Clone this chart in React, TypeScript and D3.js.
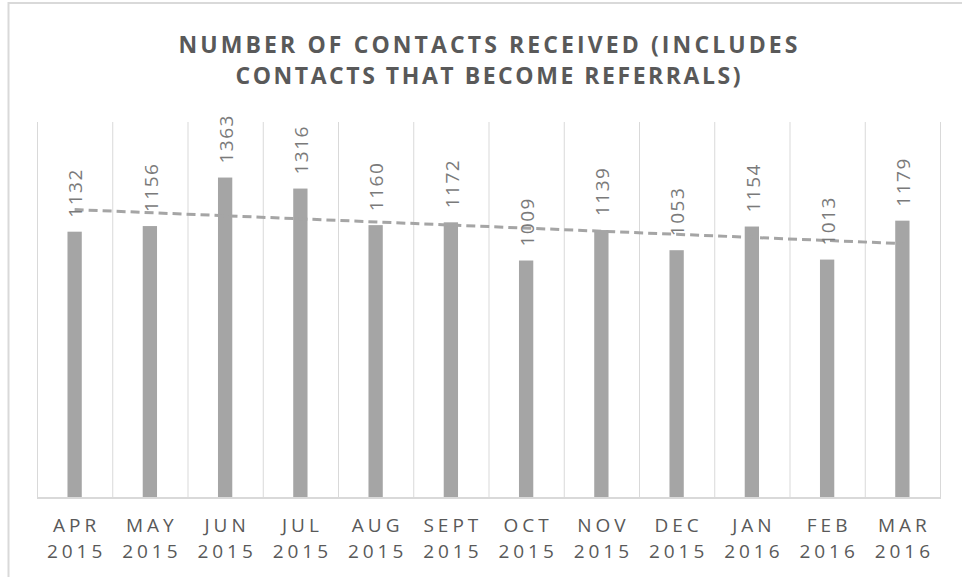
import * as React from 'react';
import * as d3 from 'd3';

const months = ['APR', 'MAY', 'JUN', 'JUL', 'AUG', 'SEPT', 'OCT', 'NOV', 'DEC', 'JAN', 'FEB', 'MAR'];
const years = ['2015', '2015', '2015', '2015', '2015', '2015', '2015', '2015', '2015', '2016', '2016', '2016'];
const contacts = [1132, 1156, 1363, 1316, 1160, 1172, 1009, 1139, 1053, 1154, 1013, 1179];
const titleLines = ['NUMBER OF CONTACTS RECEIVED (INCLUDES', 'CONTACTS THAT BECOME REFERRALS)'];

const width = 962;
const height = 577;
const plot = { left: 37, right: 940, top: 122, bottom: 497 };
const font = '"Open Sans", "DejaVu Sans", sans-serif';

class App extends React.Component<object, object> {
    private svgElement: SVGSVGElement | null = null;

    render() {
        return <svg
            ref={node => { this.svgElement = node; }}
            width={width}
            height={height}
            style={{ position: 'absolute', left: 0, top: 0, background: '#fff' }}>
        </svg>;
    }

    componentDidMount() {
        this.drawChart();
    }

    drawChart() {
        const svg = d3.select(this.svgElement);
        svg.selectAll('*').remove();

        const keys = months.map((m, i) => m + ' ' + years[i]);
        const xScale = d3.scaleBand<string>()
            .domain(keys)
            .range([plot.left, plot.right])
            .padding(0);
        const yScale = d3.scaleLinear()
            .domain([0, 1600])
            .range([plot.bottom, plot.top]);
        const barWidth = xScale.bandwidth() * 0.19;
        const center = (i: number) => (xScale(keys[i]) || 0) + xScale.bandwidth() / 2;

        // chart border (only top and left visible)
        svg.append('path')
            .attr('d', `M8.5,${height} L8.5,3 L${width},3`)
            .attr('fill', 'none')
            .attr('stroke', '#d9d9d9')
            .attr('stroke-width', 2);

        // title
        svg.append('g')
            .selectAll('text')
            .data(titleLines)
            .enter()
            .append('text')
            .attr('x', 488)
            .attr('y', (d, i) => 53 + i * 31)
            .attr('text-anchor', 'middle')
            .attr('textLength', (d, i) => i === 0 ? 619 : 505)
            .attr('lengthAdjust', 'spacing')
            .style('font-family', font)
            .style('font-weight', 'bold')
            .style('font-size', '23px')
            .style('fill', '#595959')
            .text(d => d);

        // vertical gridlines
        const bounds = keys.map(k => xScale(k) || 0).concat([plot.right]);
        svg.append('g')
            .selectAll('line')
            .data(bounds)
            .enter()
            .append('line')
            .attr('x1', d => d + 0.5)
            .attr('x2', d => d + 0.5)
            .attr('y1', plot.top)
            .attr('y2', plot.bottom)
            .attr('stroke', '#d9d9d9')
            .attr('stroke-width', 1);

        // bars
        svg.append('g')
            .selectAll('rect')
            .data(contacts)
            .enter()
            .append('rect')
            .attr('x', (d, i) => center(i) - barWidth / 2)
            .attr('y', d => yScale(d))
            .attr('width', barWidth)
            .attr('height', d => yScale(0) - yScale(d))
            .style('fill', '#a5a5a5');

        // baseline
        svg.append('line')
            .attr('x1', plot.left)
            .attr('x2', plot.right + 1)
            .attr('y1', plot.bottom + 1)
            .attr('y2', plot.bottom + 1)
            .attr('stroke', '#d9d9d9')
            .attr('stroke-width', 2);

        // linear trendline
        const xs = contacts.map((d, i) => i + 1);
        const meanX = d3.mean(xs) || 0;
        const meanY = d3.mean(contacts) || 0;
        const sxy = d3.sum(contacts, (d, i) => (xs[i] - meanX) * (d - meanY));
        const sxx = d3.sum(xs, x => (x - meanX) * (x - meanX));
        const slope = sxy / sxx;
        const intercept = meanY - slope * meanX;
        const trend = [0, contacts.length - 1].map(i => [center(i), yScale(intercept + slope * (i + 1))] as [number, number]);
        svg.append('path')
            .attr('d', d3.line()(trend) || '')
            .attr('fill', 'none')
            .attr('stroke', '#a5a5a5')
            .attr('stroke-width', 3)
            .attr('stroke-dasharray', '9 5');

        // data labels
        svg.append('g')
            .selectAll('text')
            .data(contacts)
            .enter()
            .append('text')
            .attr('transform', (d, i) => `translate(${center(i) + 1},${yScale(d) - 14}) rotate(-90)`)
            .attr('dy', '0.36em')
            .attr('text-anchor', 'start')
            .style('font-family', font)
            .style('font-size', '19px')
            .style('letter-spacing', '1.5px')
            .style('fill', '#7a7a7a')
            .text(d => String(d));

        // category labels
        const labels = svg.append('g')
            .selectAll('text')
            .data(keys)
            .enter()
            .append('text')
            .attr('text-anchor', 'middle')
            .style('font-family', font)
            .style('font-size', '19px')
            .style('letter-spacing', '4px')
            .style('fill', '#595959');
        labels.append('tspan')
            .attr('x', (d, i) => center(i) + 2)
            .attr('y', 532)
            .text((d, i) => months[i]);
        labels.append('tspan')
            .attr('x', (d, i) => center(i) + 2)
            .attr('y', 558)
            .text((d, i) => years[i]);
    }
}

export default App
